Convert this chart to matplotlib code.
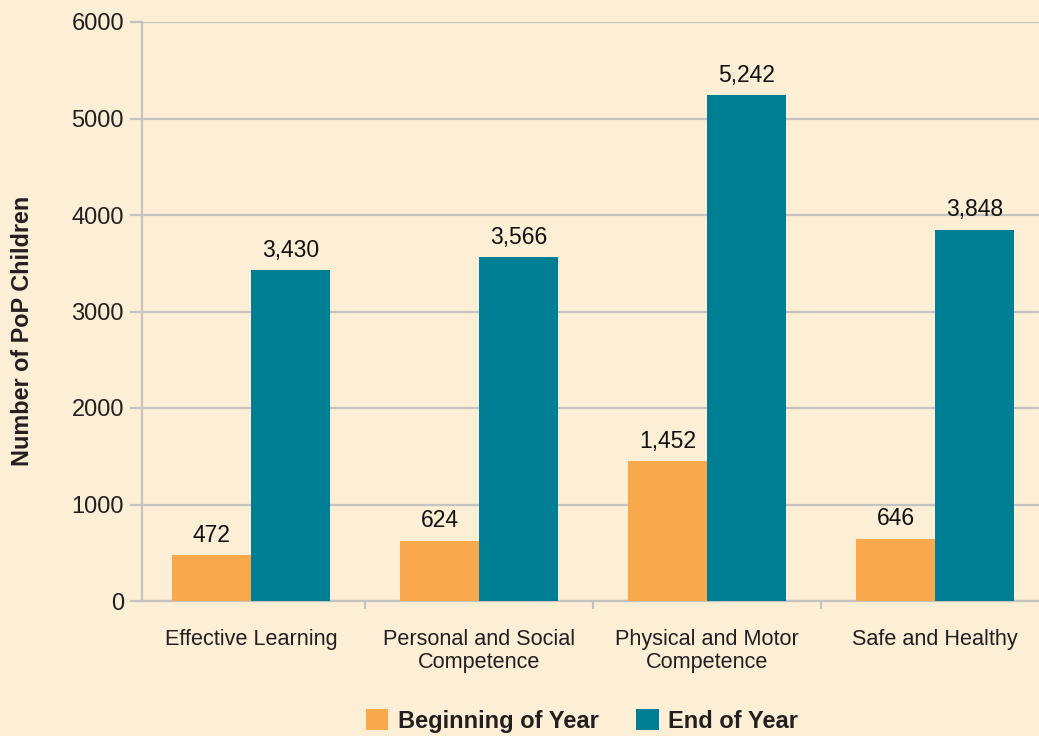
import matplotlib
matplotlib.use("Agg")
import numpy as np
import matplotlib.pyplot as plt
from matplotlib.ticker import FixedLocator

# values
categories = ["Effective Learning", "Personal and Social\nCompetence",
              "Physical and Motor\nCompetence", "Safe and Healthy"]
beginning = [472, 624, 1452, 646]
end_of_year = [3430, 3566, 5242, 3848]
series_names = ["Beginning of Year", "End of Year"]
y_ticks = [0, 1000, 2000, 3000, 4000, 5000, 6000]

bg = "#fdeed6"
orange = "#f9a94b"
teal = "#007f94"
grid_col = "#c3c3c3"
text_col = "#231f20"

plt.rcParams['font.family'] = ['Liberation Sans Narrow', 'Liberation Sans', 'DejaVu Sans']

fig = plt.figure(figsize=(10.39, 7.36), dpi=100, facecolor=bg)
ax = fig.add_axes([142 / 1039, 1 - 601 / 736, 1 - 142 / 1039, (601 - 22) / 736])
ax.set_facecolor(bg)

x = np.arange(len(categories))
w = 0.346
b1 = ax.bar(x - w / 2, beginning, w, color=orange, label=series_names[0], zorder=3)
b2 = ax.bar(x + w / 2, end_of_year, w, color=teal, label=series_names[1], zorder=3)

for bars in (b1, b2):
    for rect in bars:
        h = rect.get_height()
        ax.annotate(f"{h:,.0f}", (rect.get_x() + rect.get_width() / 2, h),
                    xytext=(0, 6), textcoords="offset points",
                    ha="center", va="bottom", fontsize=16.5, color="#111111")

ax.set_xlim(-0.478, 3.456)
ax.set_ylim(0, 6000)
ax.set_yticks(y_ticks)
ax.set_yticklabels([str(v) for v in y_ticks])
ax.yaxis.grid(True, color=grid_col, linewidth=1.6, zorder=0)
ax.set_axisbelow(True)

ax.set_xticks(x)
ax.set_xticklabels(categories, linespacing=1.15)
ax.xaxis.set_minor_locator(FixedLocator([0.5, 1.5, 2.5]))
ax.tick_params(axis="x", which="major", length=0, pad=20, labelsize=15.6, labelcolor=text_col)
ax.tick_params(axis="x", which="minor", length=6, width=1.6, color=grid_col)
ax.tick_params(axis="y", length=9, width=1.6, color=grid_col, pad=4, labelsize=17, labelcolor=text_col)

for side in ("top", "right"):
    ax.spines[side].set_visible(False)
for side in ("left", "bottom"):
    ax.spines[side].set_color(grid_col)
    ax.spines[side].set_linewidth(1.6)

fig.text(23 / 1039, 1 - 331 / 736, "Number of PoP Children", rotation=90,
         ha="center", va="center", fontsize=16.8, fontweight="bold", color=text_col)

fig.legend(loc="center", bbox_to_anchor=(582 / 1039, 1 - 721 / 736), ncol=2,
           frameon=False, handlelength=0.95, handleheight=0.95, handletextpad=0.4,
           columnspacing=1.6, prop={"size": 17, "weight": "bold"}, labelcolor=text_col)

fig.savefig("out.png", dpi=100, facecolor=bg)
